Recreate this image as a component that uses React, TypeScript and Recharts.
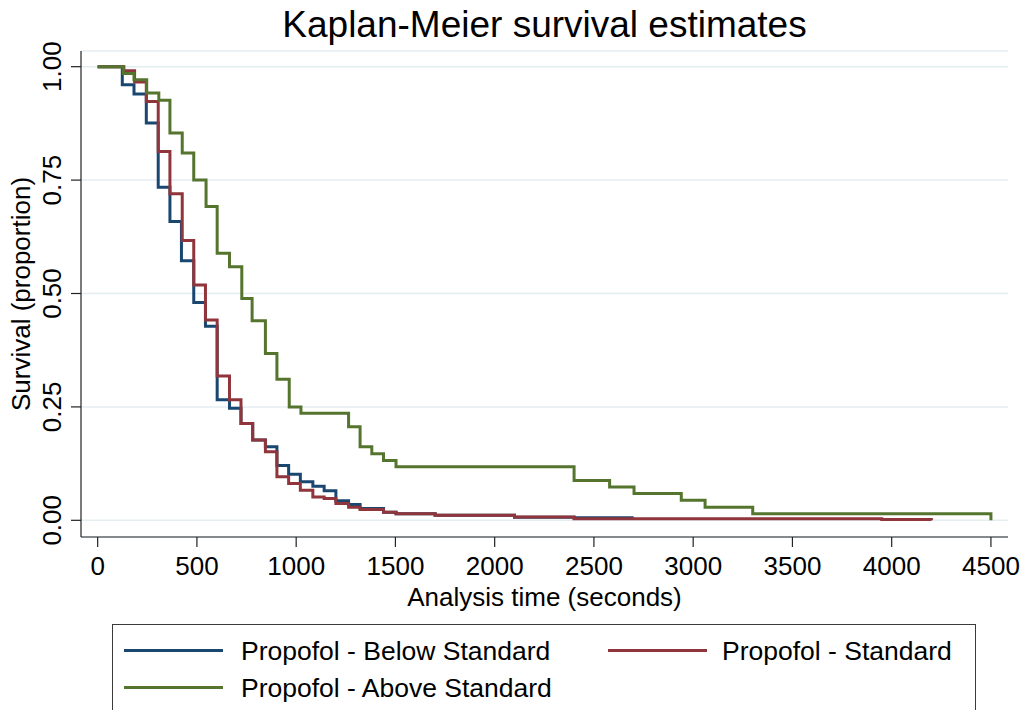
import React from 'react';
import { LineChart, Line, XAxis, YAxis, CartesianGrid, Label } from 'recharts';

// Kaplan-Meier step estimates (time in seconds, survival proportion)
const belowTimes = [0, 124, 183, 245, 305, 364, 422, 484, 543, 602, 664, 722, 781, 845, 903, 962, 1021, 1084, 1141, 1200, 1264, 1322, 1440, 1503, 1700, 2100, 2400, 2700];
const belowSurv = [1.0, 0.96, 0.94, 0.876, 0.734, 0.659, 0.572, 0.48, 0.428, 0.266, 0.247, 0.2135, 0.177, 0.162, 0.121, 0.1015, 0.085, 0.075, 0.065, 0.043, 0.035, 0.026, 0.018, 0.0147, 0.011, 0.0066, 0.0055, 0.0055];

const standardTimes = [0, 132, 186, 245, 305, 364, 426, 484, 543, 602, 664, 722, 781, 845, 903, 962, 1021, 1084, 1141, 1200, 1264, 1322, 1440, 1503, 1700, 2100, 2400, 3950, 4200];
const standardSurv = [1.0, 0.991, 0.966, 0.923, 0.813, 0.72, 0.617, 0.519, 0.4415, 0.318, 0.266, 0.2135, 0.177, 0.151, 0.096, 0.081, 0.066, 0.0515, 0.048, 0.037, 0.029, 0.024, 0.018, 0.0147, 0.011, 0.0074, 0.0037, 0.0018, 0];

const aboveTimes = [0, 129, 183, 247, 308, 364, 426, 484, 546, 602, 664, 726, 778, 845, 903, 965, 1024, 1264, 1322, 1381, 1440, 1503, 2400, 2579, 2702, 2940, 3060, 3300, 4500];
const aboveSurv = [1.0, 0.985, 0.971, 0.942, 0.926, 0.854, 0.81, 0.75, 0.692, 0.589, 0.559, 0.489, 0.44, 0.368, 0.311, 0.25, 0.236, 0.206, 0.162, 0.147, 0.132, 0.118, 0.088, 0.0735, 0.059, 0.044, 0.029, 0.0147, 0];

const xTicks = [0, 500, 1000, 1500, 2000, 2500, 3000, 3500, 4000, 4500];
const yTicks = [0, 0.25, 0.5, 0.75, 1];

const FONT = '"Liberation Sans", Arial, Helvetica, sans-serif';

const toSteps = (times: number[], surv: number[]) => times.map((t, i) => ({ t, s: surv[i] }));

const series = [
    { name: 'Propofol - Below Standard', color: '#1a476f', data: toSteps(belowTimes, belowSurv) },
    { name: 'Propofol - Standard', color: '#90353b', data: toSteps(standardTimes, standardSurv) },
    { name: 'Propofol - Above Standard', color: '#55752f', data: toSteps(aboveTimes, aboveSurv) },
];

const XTick = (props: any) => {
    const { x, y, payload } = props;
    return (
        <text x={x} y={y + 26} textAnchor="middle" fontSize={26} fontFamily={FONT} fill="#000">
            {payload.value}
        </text>
    );
};

const YTick = (props: any) => {
    const { x, y, payload } = props;
    const bx = x - 8;
    return (
        <text
            x={bx}
            y={y}
            transform={`rotate(-90, ${bx}, ${y})`}
            textAnchor="middle"
            fontSize={26}
            fontFamily={FONT}
            fill="#000"
        >
            {Number(payload.value).toFixed(2)}
        </text>
    );
};

const legendPos = [
    { left: 124, top: 650, textLeft: 241 },
    { left: 608, top: 650, textLeft: 722 },
    { left: 124, top: 687, textLeft: 241 },
];

export default function App() {
    return (
        <div style={{ position: 'absolute', left: 0, top: 0, width: 1024, height: 710, background: '#fff', fontFamily: FONT }}>
            {/* Title */}
            <div
                style={{
                    position: 'absolute',
                    left: 81,
                    width: 927,
                    top: 6,
                    fontSize: 37,
                    lineHeight: '37px',
                    textAlign: 'center',
                    color: '#000',
                }}
            >
                Kaplan-Meier survival estimates
            </div>

            <div style={{ position: 'absolute', left: 0, top: 0 }}>
                <LineChart width={1024} height={710} margin={{ top: 51, right: 16, left: 0, bottom: 113 }}>
                    <CartesianGrid vertical={false} stroke="#e4edf0" strokeWidth={1.5} />
                    <XAxis
                        dataKey="t"
                        type="number"
                        domain={[-84, 4586]}
                        ticks={xTicks}
                        tick={<XTick />}
                        tickSize={10}
                        height={60}
                        stroke="#222"
                        strokeWidth={1.2}
                        allowDuplicatedCategory={false}
                    >
                        <Label
                            content={(p: any) => {
                                const vb = p.viewBox;
                                return (
                                    <text x={vb.x + vb.width / 2} y={vb.y + 69} textAnchor="middle" fontSize={26} fontFamily={FONT} fill="#000">
                                        Analysis time (seconds)
                                    </text>
                                );
                            }}
                        />
                    </XAxis>
                    <YAxis
                        type="number"
                        domain={[-0.0368, 1.0346]}
                        ticks={yTicks}
                        tick={<YTick />}
                        tickSize={10}
                        width={81}
                        stroke="#222"
                        strokeWidth={1.2}
                    >
                        <Label
                            content={(p: any) => {
                                const vb = p.viewBox;
                                const cy = vb.y + vb.height / 2;
                                return (
                                    <text
                                        x={30}
                                        y={cy}
                                        transform={`rotate(-90, 30, ${cy})`}
                                        textAnchor="middle"
                                        fontSize={26}
                                        fontFamily={FONT}
                                        fill="#000"
                                    >
                                        Survival (proportion)
                                    </text>
                                );
                            }}
                        />
                    </YAxis>
                    {series.map((s) => (
                        <Line
                            key={s.name}
                            name={s.name}
                            data={s.data}
                            dataKey="s"
                            type="stepAfter"
                            stroke={s.color}
                            strokeWidth={3}
                            dot={false}
                            activeDot={false}
                            isAnimationActive={false}
                        />
                    ))}
                </LineChart>
            </div>

            {/* Legend */}
            <div
                style={{
                    position: 'absolute',
                    left: 112,
                    top: 624,
                    width: 864,
                    height: 100,
                    border: '1.5px solid #3a3a3a',
                    boxSizing: 'border-box',
                }}
            />
            {series.map((s, i) => (
                <React.Fragment key={s.name}>
                    <div
                        style={{
                            position: 'absolute',
                            left: legendPos[i].left,
                            top: legendPos[i].top - 1.5,
                            width: 99,
                            height: 3,
                            background: s.color,
                        }}
                    />
                    <div
                        style={{
                            position: 'absolute',
                            left: legendPos[i].textLeft,
                            top: legendPos[i].top - 12,
                            fontSize: 26.5,
                            lineHeight: '26px',
                            color: '#000',
                            whiteSpace: 'nowrap',
                        }}
                    >
                        {s.name}
                    </div>
                </React.Fragment>
            ))}
        </div>
    );
}
